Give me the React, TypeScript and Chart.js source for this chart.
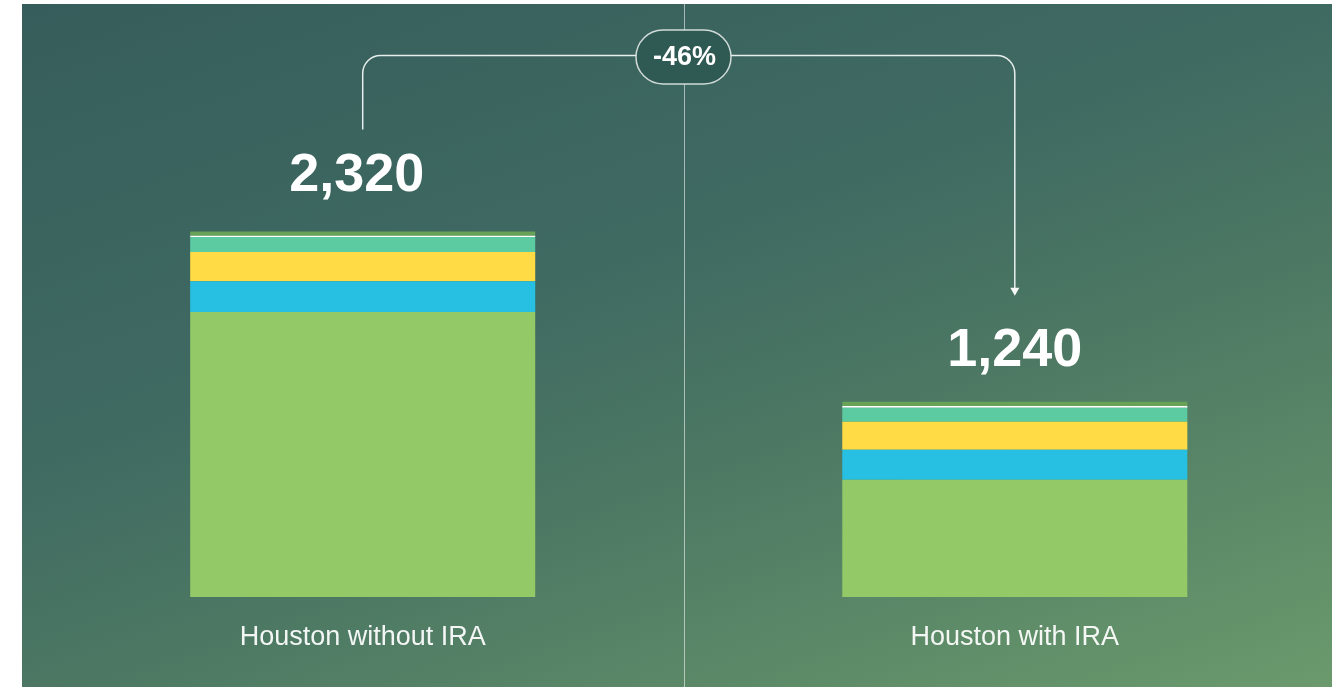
import { useEffect, useRef } from 'react';
import { Chart, registerables } from 'chart.js';

Chart.register(...registerables);

// ---- data ----
const categories = ['Houston without IRA', 'Houston with IRA'];
const totals = [2320, 1240];
const baseValues = [1810, 745];
const cyanValues = [195, 190];
const yellowValues = [185, 178];
const tealValues = [95, 88];
const whiteValues = [8, 12];
const topValues = [27, 27];
const changeLabel = '-46%';
const yMax = 3000;

const FONT = "'Liberation Sans', Arial, sans-serif";

const decorPlugin = {
  id: 'decor',
  beforeDraw(chart: any) {
    const { ctx, width, height } = chart;
    ctx.save();
    ctx.fillStyle = '#ffffff';
    ctx.fillRect(0, 0, width, height);
    const g = ctx.createLinearGradient(22, 4, 375, 1020);
    g.addColorStop(0, 'rgb(54,93,91)');
    g.addColorStop(0.4, 'rgb(63,106,98)');
    g.addColorStop(0.6, 'rgb(75,119,99)');
    g.addColorStop(1, 'rgb(106,154,108)');
    ctx.fillStyle = g;
    ctx.fillRect(22, 4, width - 22, height - 4);
    // divider
    ctx.strokeStyle = 'rgba(255,255,255,0.55)';
    ctx.lineWidth = 1;
    ctx.beginPath();
    ctx.moveTo(684.5, 4);
    ctx.lineTo(684.5, height);
    ctx.stroke();
    ctx.restore();
  },
  afterDatasetsDraw(chart: any) {
    const { ctx } = chart;
    const xs = chart.scales.x;
    const ys = chart.scales.y;
    const x1 = xs.getPixelForValue(0);
    const x2 = xs.getPixelForValue(1);
    const t1 = ys.getPixelForValue(totals[0]);
    const t2 = ys.getPixelForValue(totals[1]);
    ctx.save();
    // value labels
    ctx.fillStyle = '#ffffff';
    ctx.font = `bold 54px ${FONT}`;
    ctx.textAlign = 'center';
    ctx.textBaseline = 'alphabetic';
    totals.forEach((v, i) => {
      const x = xs.getPixelForValue(i);
      const top = ys.getPixelForValue(v);
      ctx.fillText(v.toLocaleString('en-US'), x - (i === 0 ? 6 : 0), top - (i === 0 ? 41 : 36));
    });
    // bracket
    const lineY = 55.5;
    const r = 18;
    const startY = t1 - 102;
    const tip = t2 - 106;
    ctx.strokeStyle = 'rgba(240,246,244,0.95)';
    ctx.lineWidth = 1.5;
    ctx.beginPath();
    ctx.moveTo(x1, startY);
    ctx.lineTo(x1, lineY + r);
    ctx.arcTo(x1, lineY, x1 + r, lineY, r);
    ctx.lineTo(x2 - r, lineY);
    ctx.arcTo(x2, lineY, x2, lineY + r, r);
    ctx.lineTo(x2, tip - 7);
    ctx.stroke();
    ctx.fillStyle = 'rgba(245,248,247,1)';
    ctx.beginPath();
    ctx.moveTo(x2 - 4.5, tip - 8);
    ctx.lineTo(x2 + 4.5, tip - 8);
    ctx.lineTo(x2, tip);
    ctx.closePath();
    ctx.fill();
    // pill
    const cx = 683.5, cy = 57, pw = 95, ph = 54, pr = 27;
    ctx.beginPath();
    ctx.moveTo(cx - pw / 2 + pr, cy - ph / 2);
    ctx.lineTo(cx + pw / 2 - pr, cy - ph / 2);
    ctx.arc(cx + pw / 2 - pr, cy, pr, -Math.PI / 2, Math.PI / 2);
    ctx.lineTo(cx - pw / 2 + pr, cy + ph / 2);
    ctx.arc(cx - pw / 2 + pr, cy, pr, Math.PI / 2, Math.PI * 1.5);
    ctx.closePath();
    ctx.fillStyle = '#2f5a53';
    ctx.fill();
    ctx.strokeStyle = 'rgba(225,232,230,0.9)';
    ctx.lineWidth = 1.5;
    ctx.stroke();
    ctx.fillStyle = '#ffffff';
    ctx.font = `bold 27px ${FONT}`;
    ctx.textBaseline = 'middle';
    ctx.fillText(changeLabel, cx + 1, cy + 1);
    ctx.restore();
  },
};

export default function App() {
  const ref = useRef<HTMLCanvasElement>(null);
  useEffect(() => {
    if (!ref.current) return;
    const mk = (label: string, data: number[], color: string) => ({
      label,
      data,
      backgroundColor: color,
      borderWidth: 0,
      clip: false as const,
      categoryPercentage: 1,
      barPercentage: 345 / 652,
    });
    const chart = new Chart(ref.current, {
      type: 'bar',
      data: {
        labels: categories,
        datasets: [
          mk('Base', baseValues, '#93c966'),
          mk('Cyan', cyanValues, '#27c0e3'),
          mk('Yellow', yellowValues, '#ffdc46'),
          mk('Teal', tealValues, '#5ccba1'),
          mk('White', whiteValues, '#ffffff'),
          mk('Top', topValues, '#67a257'),
        ],
      },
      options: {
        responsive: false,
        animation: false,
        layout: { padding: { top: 124.5, left: 362.7, right: 1332 - 1014.8, bottom: 0 } },
        plugins: { legend: { display: false }, tooltip: { enabled: false } },
        scales: {
          x: {
            stacked: true,
            offset: false,
            grid: { display: false, drawTicks: false },
            border: { display: false },
            ticks: {
              padding: 24,
              color: 'rgba(255,255,255,0.93)',
              font: { family: FONT, size: 27 },
              maxRotation: 0,
              autoSkip: false,
            },
            afterFit: (s: any) => {
              s.height = 90;
            },
          },
          y: {
            stacked: true,
            display: false,
            min: 0,
            max: yMax,
          },
        },
      },
      plugins: [decorPlugin],
    });
    return () => chart.destroy();
  }, []);
  return (
    <div style={{ position: 'fixed', left: 0, top: 0, width: 1332, height: 687 }}>
      <canvas ref={ref} width={1332} height={687} style={{ display: 'block' }} />
    </div>
  );
}
